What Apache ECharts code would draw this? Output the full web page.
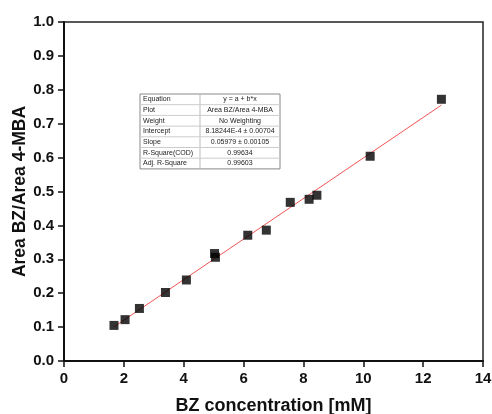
<!DOCTYPE html>
<html><head><meta charset="utf-8">
<script src="https://cdn.jsdelivr.net/npm/echarts@6/dist/echarts.min.js"></script>
<style>html,body{margin:0;padding:0;background:#fff}#c{width:492px;height:414px}</style>
</head><body><div id="c"></div>
<script>
const xValues = [1.67, 2.04, 2.52, 3.39, 4.09, 5.03, 5.06, 6.14, 6.76, 7.56, 8.19, 8.45, 10.23, 12.61];
const yValues = [0.105, 0.122, 0.155, 0.202, 0.239, 0.317, 0.306, 0.371, 0.386, 0.468, 0.477, 0.489, 0.604, 0.772];
const fitX = [1.67, 12.61];
const fitY = [0.1007, 0.7548];
const tableLabels = ['Equation','Plot','Weight','Intercept','Slope','R-Square(COD)','Adj. R-Square'];
const tableValues = ['y = a + b*x','Area BZ/Area 4-MBA','No Weighting','8.18244E-4 ± 0.00704','0.05979 ± 0.00105','0.99634','0.99603'];

const font = '"Liberation Sans", Arial, sans-serif';
const chart = echarts.init(document.getElementById('c'));

const tx = 140, ty = 94, tw = 140, rh = 10.7, cw = 60;
const g = [];
g.push({type:'rect', shape:{x:tx, y:ty, width:tw, height:rh*7}, style:{fill:'#fff', stroke:'#888', lineWidth:1}});
g.push({type:'line', shape:{x1:tx+cw, y1:ty, x2:tx+cw, y2:ty+rh*7}, style:{stroke:'#bbb', lineWidth:1}});
for (let i=1;i<7;i++) g.push({type:'line', shape:{x1:tx, y1:ty+rh*i, x2:tx+tw, y2:ty+rh*i}, style:{stroke:'#ccc', lineWidth:1}});
tableLabels.forEach((t,i)=>{
  g.push({type:'text', x:tx+3, y:ty+rh*i+rh/2, style:{text:t, font:'7px '+font, fill:'#222', textVerticalAlign:'middle', verticalAlign:'middle'}});
  g.push({type:'text', x:tx+cw+(tw-cw)/2, y:ty+rh*i+rh/2, style:{text:tableValues[i], font:'7px '+font, fill:'#222', textAlign:'center', align:'center', textVerticalAlign:'middle', verticalAlign:'middle'}});
});

chart.setOption({
  animation:false,
  backgroundColor:'#fff',
  grid:{left:64, top:22, right:9, bottom:53, show:true, borderColor:'#222', borderWidth:1.5, backgroundColor:'transparent', containLabel:false, outerBoundsMode:'none'},
  xAxis:{type:'value', min:0, max:14, interval:2,
    name:'BZ concentration [mM]', nameLocation:'middle', nameGap:36, nameMoveOverlap:false,
    nameTextStyle:{fontFamily:font, fontWeight:'bold', fontSize:18, color:'#111'},
    axisLine:{show:true, onZero:false, lineStyle:{color:'#111', width:2}},
    axisTick:{show:true, length:6, lineStyle:{color:'#111', width:1.5}},
    axisLabel:{fontFamily:font, fontWeight:'bold', fontSize:15, color:'#111', margin:10},
    splitLine:{show:false}},
  yAxis:{type:'value', min:0, max:1.0, interval:0.1,
    name:'Area BZ/Area 4-MBA', nameLocation:'middle', nameGap:35, nameRotate:90, nameMoveOverlap:false,
    nameTextStyle:{fontFamily:font, fontWeight:'bold', fontSize:17.5, color:'#111'},
    axisLine:{show:true, onZero:false, lineStyle:{color:'#111', width:2}},
    axisTick:{show:true, length:6, lineStyle:{color:'#111', width:1.5}},
    axisLabel:{fontFamily:font, fontWeight:'bold', fontSize:15, color:'#111', margin:10,
      formatter:v=>v.toFixed(1)},
    splitLine:{show:false}},
  series:[
    {type:'line', data:fitX.map((x,i)=>[x,fitY[i]]), symbol:'none', lineStyle:{color:'#f05555', width:1}, z:2},
    {type:'scatter', data:xValues.map((x,i)=>[x,yValues[i]]), symbol:'rect', symbolSize:9, itemStyle:{color:'#000'}, z:3}
  ],
  graphic:g
});
</script></body></html>
